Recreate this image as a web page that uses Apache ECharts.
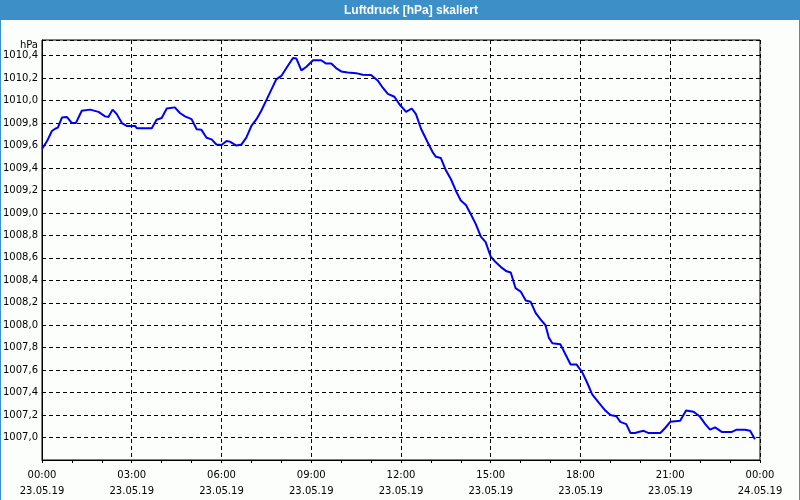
<!DOCTYPE html>
<html>
<head>
<meta charset="utf-8">
<script src="https://cdn.jsdelivr.net/npm/echarts@6/dist/echarts.min.js"></script>
<style>
html,body{margin:0;padding:0;background:#fcfefc;}
#c{width:800px;height:500px;}
</style>
</head>
<body>
<div id="c"></div>
<script>
const titleText = 'Luftdruck [hPa] skaliert';
const unitLabel = 'hPa';
const xTickLabels = ['00:00\n23.05.19','03:00\n23.05.19','06:00\n23.05.19','09:00\n23.05.19','12:00\n23.05.19','15:00\n23.05.19','18:00\n23.05.19','21:00\n23.05.19','00:00\n24.05.19'];
// hours since 23.05.19 00:00
const hours = [0.00,0.17,0.33,0.44,0.53,0.67,0.83,1.00,1.13,1.33,1.61,1.89,2.11,2.22,2.36,2.50,2.67,2.83,3.11,3.17,3.67,3.83,4.00,4.17,4.44,4.61,4.78,5.00,5.17,5.33,5.50,5.67,5.83,6.00,6.17,6.28,6.50,6.67,6.83,7.00,7.17,7.33,7.50,7.83,8.00,8.17,8.39,8.50,8.67,8.83,9.06,9.33,9.50,9.67,9.83,10.00,10.22,10.50,10.72,11.00,11.22,11.39,11.56,11.78,11.94,12.17,12.36,12.50,12.67,12.89,13.06,13.17,13.33,13.50,13.67,13.83,14.00,14.17,14.33,14.50,14.67,14.83,15.00,15.17,15.33,15.53,15.67,15.83,16.00,16.17,16.33,16.50,16.67,16.83,16.94,17.06,17.33,17.50,17.67,17.87,18.06,18.22,18.39,18.61,18.83,19.00,19.20,19.33,19.53,19.67,19.83,19.94,20.11,20.28,20.67,20.83,21.00,21.33,21.53,21.78,21.98,22.17,22.33,22.50,22.72,23.06,23.22,23.50,23.67,23.83];
const pressure = [1009.57,1009.64,1009.73,1009.75,1009.76,1009.85,1009.855,1009.80,1009.80,1009.91,1009.92,1009.90,1009.86,1009.855,1009.92,1009.88,1009.80,1009.775,1009.775,1009.755,1009.755,1009.83,1009.845,1009.93,1009.94,1009.89,1009.86,1009.835,1009.745,1009.74,1009.67,1009.655,1009.61,1009.605,1009.64,1009.635,1009.60,1009.61,1009.67,1009.775,1009.835,1009.91,1010.005,1010.19,1010.22,1010.29,1010.38,1010.376,1010.27,1010.30,1010.36,1010.36,1010.33,1010.33,1010.29,1010.26,1010.25,1010.245,1010.23,1010.228,1010.18,1010.115,1010.06,1010.035,1009.97,1009.90,1009.93,1009.88,1009.75,1009.63,1009.54,1009.50,1009.49,1009.38,1009.30,1009.20,1009.11,1009.07,1008.99,1008.90,1008.79,1008.74,1008.61,1008.56,1008.52,1008.48,1008.47,1008.33,1008.30,1008.22,1008.21,1008.11,1008.05,1008.00,1007.89,1007.84,1007.83,1007.74,1007.65,1007.65,1007.58,1007.49,1007.385,1007.31,1007.24,1007.20,1007.19,1007.14,1007.12,1007.04,1007.04,1007.05,1007.06,1007.04,1007.04,1007.085,1007.14,1007.15,1007.24,1007.23,1007.19,1007.12,1007.07,1007.09,1007.05,1007.05,1007.07,1007.07,1007.06,1006.985];

const seriesData = hours.map((h, i) => [h, pressure[i]]);
const font = 'DejaVu Sans';
const barBlue = '#3c8fc7';
const chart = echarts.init(document.getElementById('c'), null, {renderer: 'canvas'});
chart.setOption({
  backgroundColor: '#fcfefc',
  animation: false,
  graphic: [
    {type: 'rect', x: 0, y: 0, shape: {width: 800, height: 20}, style: {fill: barBlue}, z: 0},
    {type: 'rect', x: 0, y: 0, shape: {width: 1, height: 500}, style: {fill: barBlue}, z: 0},
    {type: 'rect', x: 799, y: 0, shape: {width: 1, height: 500}, style: {fill: barBlue}, z: 0},
    {type: 'text', x: 411, y: 11, style: {text: titleText, fill: '#ffffff', font: 'bold 12px "Liberation Sans"', textAlign: 'center', textVerticalAlign: 'middle'}, z: 1}
  ],
  grid: {left: 40, right: 40, top: 40, bottom: 40, show: true, borderColor: '#000', borderWidth: 1, backgroundColor: 'transparent'},
  xAxis: {
    type: 'value', min: 0, max: 24, interval: 3,
    axisLine: {show: true, lineStyle: {color: '#000', width: 1}},
    axisTick: {show: true, length: 3, lineStyle: {color: '#000'}},
    minorTick: {show: true, splitNumber: 3, length: 3, lineStyle: {color: '#000'}},
    splitLine: {show: true, lineStyle: {color: '#000', type: [4, 3], width: 1}},
    axisLabel: {
      margin: 7, color: '#000', fontFamily: font, fontSize: 10, lineHeight: 16,
      formatter: v => xTickLabels[Math.round(v / 3)]
    }
  },
  yAxis: {
    type: 'value', min: 1006.8, max: 1010.54, interval: 0.2,
    name: unitLabel, nameLocation: 'end', nameGap: -5,
    nameTextStyle: {color: '#000', fontFamily: font, fontSize: 10, align: 'right', verticalAlign: 'middle', padding: [0, 4, 0, 0]},
    axisLine: {show: true, lineStyle: {color: '#000', width: 1}},
    axisTick: {show: false},
    splitLine: {show: true, lineStyle: {color: '#000', type: [4, 3], width: 1}},
    axisLabel: {
      margin: 4, color: '#000', fontFamily: font, fontSize: 10,
      showMinLabel: false, showMaxLabel: false,
      formatter: v => v.toFixed(1).replace('.', ',')
    }
  },
  series: [{
    type: 'line', data: seriesData, showSymbol: false, smooth: false,
    lineStyle: {color: '#0000f0', width: 2}, itemStyle: {color: '#0000f0'}
  }]
});
</script>
</body>
</html>
